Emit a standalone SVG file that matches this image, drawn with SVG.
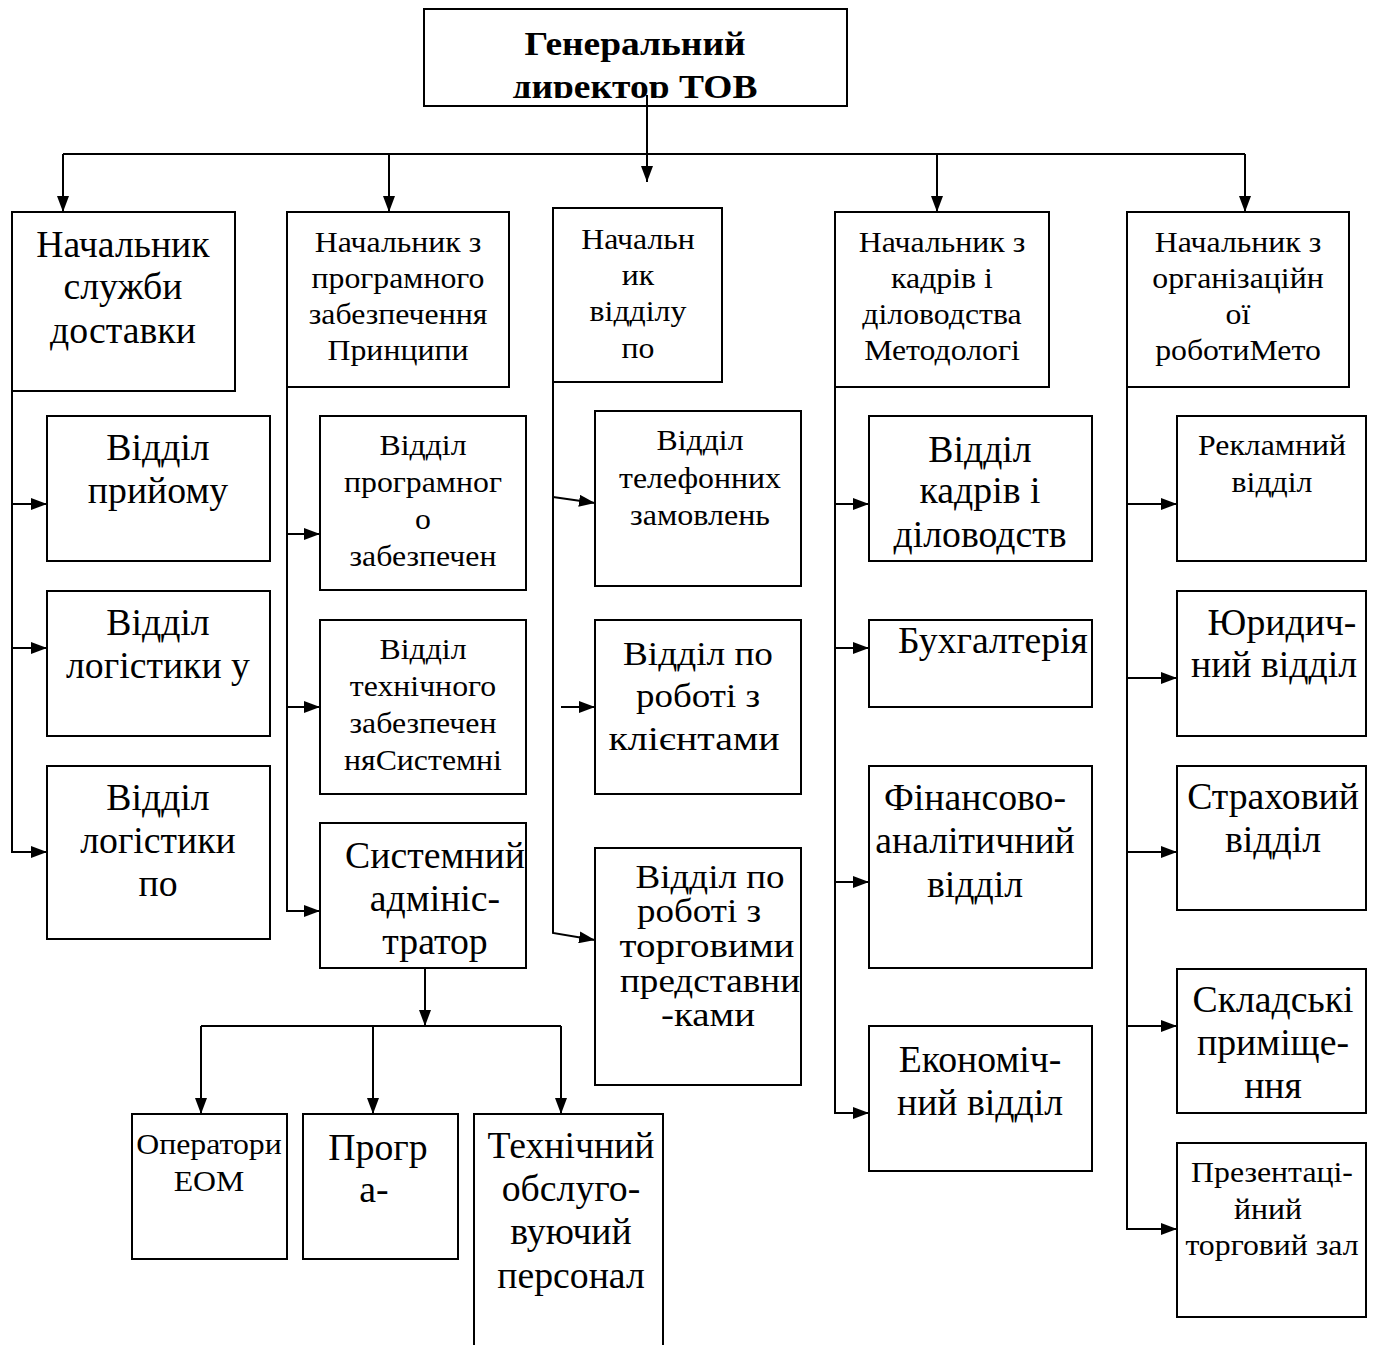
<svg xmlns="http://www.w3.org/2000/svg" width="1380" height="1345" viewBox="0 0 1380 1345">
  <style>
    .box { fill: #fff; stroke: #000; stroke-width: 2; }
    .ln { fill: none; stroke: #000; stroke-width: 2; }
    .arr { marker-end: url(#ah); }
    text { font-family: "Liberation Serif", "Times New Roman", serif; fill: #000; text-anchor: middle; }
    .ts { font-size: 30px; transform-box: fill-box; transform-origin: 50% 50%; transform: scaleX(1.06); }
    .tb { font-size: 37px; transform-box: fill-box; transform-origin: 50% 50%; transform: scaleX(1.02); }
    .tw { font-size: 34px; }
    .tm { font-size: 30px; }
    .title { font-size: 34px; font-weight: bold; }
  </style>
  <defs>
    <marker id="ah" viewBox="0 0 16 12" refX="16" refY="6" markerWidth="16" markerHeight="12" markerUnits="userSpaceOnUse" orient="auto">
      <path d="M0,0 L16,6 L0,12 z" fill="#000"/>
    </marker>
    <clipPath id="titleClip"><rect x="424" y="9" width="423" height="89"/></clipPath>
  </defs>

  <!-- connectors -->
  <g id="connectors">
    <path class="ln" d="M63,154 H1245"/>
    <path class="ln arr" d="M647,95 V182"/>
    <path class="ln arr" d="M63,154 V212"/>
    <path class="ln arr" d="M389,154 V212"/>
    <path class="ln arr" d="M937,154 V212"/>
    <path class="ln arr" d="M1245,154 V212"/>

    <path class="ln arr" d="M12,391 V852 H47"/>
    <path class="ln arr" d="M12,504 H47"/>
    <path class="ln arr" d="M12,648 H47"/>

    <path class="ln arr" d="M287,387 V911 H320"/>
    <path class="ln arr" d="M287,534 H320"/>
    <path class="ln arr" d="M287,707 H320"/>

    <path class="ln arr" d="M553,382 V933 L595,940"/>
    <path class="ln arr" d="M553,497 L595,503"/>
    <path class="ln arr" d="M561,707 H595"/>

    <path class="ln arr" d="M835,387 V1113 H869"/>
    <path class="ln arr" d="M835,504 H869"/>
    <path class="ln arr" d="M835,648 H869"/>
    <path class="ln arr" d="M835,882 H869"/>

    <path class="ln arr" d="M1127,387 V1229 H1177"/>
    <path class="ln arr" d="M1127,504 H1177"/>
    <path class="ln arr" d="M1127,678 H1177"/>
    <path class="ln arr" d="M1127,852 H1177"/>
    <path class="ln arr" d="M1127,1026 H1177"/>

    <path class="ln arr" d="M425,968 V1026"/>
    <path class="ln" d="M201,1026 H561"/>
    <path class="ln arr" d="M201,1026 V1114"/>
    <path class="ln arr" d="M373,1026 V1114"/>
    <path class="ln arr" d="M561,1026 V1114"/>
  </g>

  <!-- top node -->
  <g id="director">
    <rect class="box" x="424" y="9" width="423" height="97"/>
    <g clip-path="url(#titleClip)">
      <text class="title" x="635" y="55" textLength="221" lengthAdjust="spacingAndGlyphs">Генеральний</text>
      <text class="title" x="635" y="98" textLength="245" lengthAdjust="spacingAndGlyphs">директор ТОВ</text>
    </g>
    <path class="ln" d="M647,95 V106"/>
  </g>

  <!-- column 1 -->
  <g id="head-delivery">
    <rect class="box" x="12" y="212" width="223" height="179"/>
    <text class="tb" x="123" y="257">Начальник</text>
    <text class="tb" x="123" y="299">служби</text>
    <text class="tb" x="123" y="343">доставки</text>
  </g>
  <g id="dept-reception">
    <rect class="box" x="47" y="416" width="223" height="145"/>
    <text class="tb" x="158" y="460">Відділ</text>
    <text class="tb" x="158" y="503">прийому</text>
  </g>
  <g id="dept-logistics-1">
    <rect class="box" x="47" y="591" width="223" height="145"/>
    <text class="tb" x="158" y="635">Відділ</text>
    <text class="tb" x="158" y="678">логістики у</text>
  </g>
  <g id="dept-logistics-2">
    <rect class="box" x="47" y="766" width="223" height="173"/>
    <text class="tb" x="158" y="810">Відділ</text>
    <text class="tb" x="158" y="853">логістики</text>
    <text class="tb" x="158" y="896">по</text>
  </g>

  <!-- column 2 -->
  <g id="head-software">
    <rect class="box" x="287" y="212" width="222" height="175"/>
    <text class="ts" x="398" y="252">Начальник з</text>
    <text class="ts" x="398" y="288">програмного</text>
    <text class="ts" x="398" y="324">забезпечення</text>
    <text class="ts" x="398" y="360">Принципи</text>
  </g>
  <g id="dept-software">
    <rect class="box" x="320" y="416" width="206" height="174"/>
    <text class="ts" x="423" y="455">Відділ</text>
    <text class="ts" x="423" y="492">програмног</text>
    <text class="ts" x="423" y="529">о</text>
    <text class="ts" x="423" y="566">забезпечен</text>
  </g>
  <g id="dept-hardware">
    <rect class="box" x="320" y="620" width="206" height="174"/>
    <text class="ts" x="423" y="659">Відділ</text>
    <text class="ts" x="423" y="696">технічного</text>
    <text class="ts" x="423" y="733">забезпечен</text>
    <text class="ts" x="423" y="770">няСистемні</text>
  </g>
  <g id="sysadmin">
    <rect class="box" x="320" y="823" width="206" height="145"/>
    <text class="tb" x="435" y="868">Системний</text>
    <text class="tb" x="435" y="911">адмініс-</text>
    <text class="tb" x="435" y="954">тратор</text>
  </g>
  <g id="operators">
    <rect class="box" x="132" y="1114" width="155" height="145"/>
    <text class="ts" x="209" y="1154">Оператори</text>
    <text class="ts" x="209" y="1191">ЕОМ</text>
  </g>
  <g id="programmers">
    <rect class="box" x="303" y="1114" width="155" height="145"/>
    <text class="tb" x="378" y="1160">Прогр</text>
    <text class="tb" x="374" y="1202">а-</text>
  </g>
  <g id="tech-staff">
    <rect class="box" x="474" y="1114" width="189" height="260"/>
    <text class="tb" x="571" y="1158">Технічний</text>
    <text class="tb" x="571" y="1201">обслуго-</text>
    <text class="tb" x="571" y="1244">вуючий</text>
    <text class="tb" x="571" y="1288">персонал</text>
  </g>

  <!-- column 3 -->
  <g id="head-dept">
    <rect class="box" x="553" y="208" width="169" height="174"/>
    <text class="ts" x="638" y="249">Начальн</text>
    <text class="ts" x="638" y="285">ик</text>
    <text class="ts" x="638" y="321">відділу</text>
    <text class="ts" x="638" y="358">по</text>
  </g>
  <g id="dept-phone">
    <rect class="box" x="595" y="411" width="206" height="175"/>
    <text class="tm" x="700" y="450" textLength="87" lengthAdjust="spacingAndGlyphs">Відділ</text>
    <text class="tm" x="700" y="488" textLength="162" lengthAdjust="spacingAndGlyphs">телефонних</text>
    <text class="tm" x="700" y="525" textLength="140" lengthAdjust="spacingAndGlyphs">замовлень</text>
  </g>
  <g id="dept-clients">
    <rect class="box" x="595" y="620" width="206" height="174"/>
    <text class="tw" x="698" y="665" textLength="150" lengthAdjust="spacingAndGlyphs">Відділ по</text>
    <text class="tw" x="698" y="707" textLength="124" lengthAdjust="spacingAndGlyphs">роботі з</text>
    <text class="tw" x="694" y="750" textLength="171" lengthAdjust="spacingAndGlyphs">клієнтами</text>
  </g>
  <g id="dept-trade">
    <rect class="box" x="595" y="848" width="206" height="237"/>
    <text class="tw" x="710" y="888" textLength="149" lengthAdjust="spacingAndGlyphs">Відділ по</text>
    <text class="tw" x="699" y="922" textLength="124" lengthAdjust="spacingAndGlyphs">роботі з</text>
    <text class="tw" x="707" y="957" textLength="175" lengthAdjust="spacingAndGlyphs">торговими</text>
    <text class="tw" x="710" y="992" textLength="180" lengthAdjust="spacingAndGlyphs">представни</text>
    <text class="tw" x="708" y="1026" textLength="94" lengthAdjust="spacingAndGlyphs">-ками</text>
  </g>

  <!-- column 4 -->
  <g id="head-hr">
    <rect class="box" x="835" y="212" width="214" height="175"/>
    <text class="ts" x="942" y="252">Начальник з</text>
    <text class="ts" x="942" y="288">кадрів і</text>
    <text class="ts" x="942" y="324">діловодства</text>
    <text class="ts" x="942" y="360">Методологі</text>
  </g>
  <g id="dept-hr">
    <rect class="box" x="869" y="416" width="223" height="145"/>
    <text class="tb" x="980" y="462">Відділ</text>
    <text class="tb" x="980" y="503">кадрів і</text>
    <text class="tb" x="980" y="547">діловодств</text>
  </g>
  <g id="accounting">
    <rect class="box" x="869" y="620" width="223" height="87"/>
    <text class="tb" x="993" y="653">Бухгалтерія</text>
  </g>
  <g id="dept-finance">
    <rect class="box" x="869" y="766" width="223" height="202"/>
    <text class="tb" x="975" y="810">Фінансово-</text>
    <text class="tb" x="975" y="853">аналітичний</text>
    <text class="tb" x="975" y="897">відділ</text>
  </g>
  <g id="dept-economic">
    <rect class="box" x="869" y="1026" width="223" height="145"/>
    <text class="tb" x="980" y="1072">Економіч-</text>
    <text class="tb" x="980" y="1115">ний відділ</text>
  </g>

  <!-- column 5 -->
  <g id="head-org">
    <rect class="box" x="1127" y="212" width="222" height="175"/>
    <text class="ts" x="1238" y="252">Начальник з</text>
    <text class="ts" x="1238" y="288">організаційн</text>
    <text class="ts" x="1238" y="324">ої</text>
    <text class="ts" x="1238" y="360">роботиМето</text>
  </g>
  <g id="dept-ads">
    <rect class="box" x="1177" y="416" width="189" height="145"/>
    <text class="ts" x="1272" y="455">Рекламний</text>
    <text class="ts" x="1272" y="492">відділ</text>
  </g>
  <g id="dept-legal">
    <rect class="box" x="1177" y="591" width="189" height="145"/>
    <text class="tb" x="1282" y="635">Юридич-</text>
    <text class="tb" x="1274" y="677">ний відділ</text>
  </g>
  <g id="dept-insurance">
    <rect class="box" x="1177" y="766" width="189" height="144"/>
    <text class="tb" x="1273" y="809">Страховий</text>
    <text class="tb" x="1273" y="852">відділ</text>
  </g>
  <g id="warehouse">
    <rect class="box" x="1177" y="969" width="189" height="144"/>
    <text class="tb" x="1273" y="1012">Складські</text>
    <text class="tb" x="1273" y="1055">приміще-</text>
    <text class="tb" x="1273" y="1098">ння</text>
  </g>
  <g id="showroom">
    <rect class="box" x="1177" y="1143" width="189" height="174"/>
    <text class="ts" x="1272" y="1182">Презентаці-</text>
    <text class="ts" x="1268" y="1219">йний</text>
    <text class="ts" x="1272" y="1255">торговий зал</text>
  </g>
</svg>
